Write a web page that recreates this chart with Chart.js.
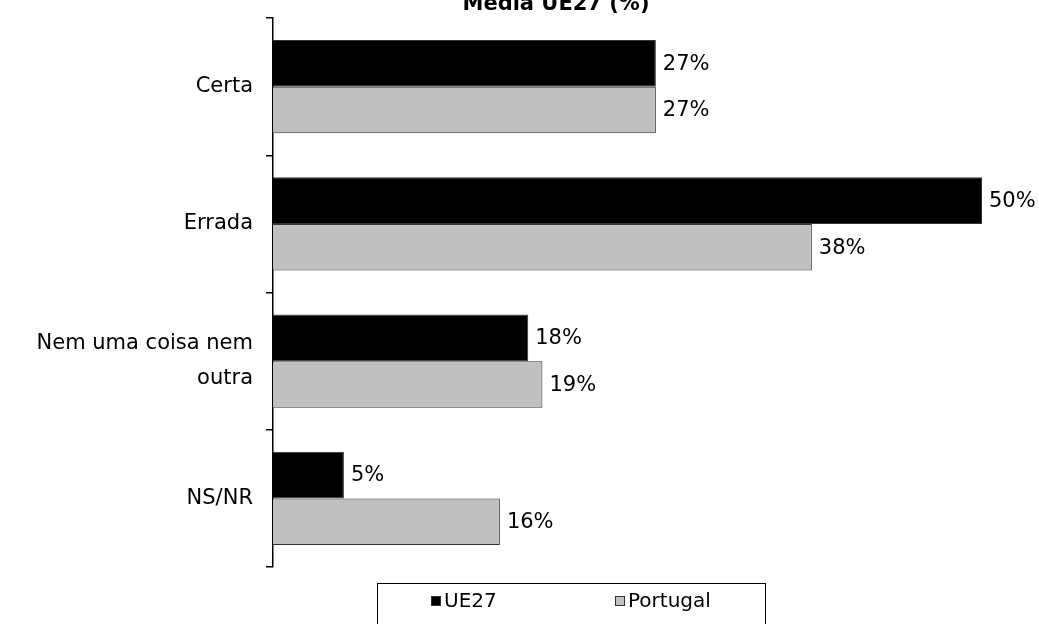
<!DOCTYPE html>
<html lang="pt">
<head>
    <meta charset="UTF-8">
    <title>Média UE27 (%)</title>
    <script src="https://cdn.jsdelivr.net/npm/chart.js@4.4.1/dist/chart.umd.min.js"></script>
    <style>
        html, body { margin: 0; padding: 0; background: #fff; }
        .wrap { width: 1039px; height: 624px; position: relative; }
    </style>
</head>
<body>
    <div class="wrap"><canvas id="chart"></canvas></div>

    <script>
        // data
        const categories = ['Certa', 'Errada', ['Nem uma coisa nem', 'outra'], 'NS/NR'];
        const ue27 = [27, 50, 18, 5];
        const portugal = [27, 38, 19, 16];
        const seriesNames = ['UE27', 'Portugal'];
        const titleText = 'Média UE27 (%)';

        const FONT = '"DejaVu Sans", sans-serif';

        // value labels at the end of each bar
        const barLabels = {
            id: 'barLabels',
            afterDatasetsDraw(chart) {
                const ctx = chart.ctx;
                ctx.save();
                ctx.font = '21px ' + FONT;
                ctx.fillStyle = '#000';
                ctx.textAlign = 'left';
                ctx.textBaseline = 'middle';
                chart.data.datasets.forEach((ds, i) => {
                    chart.getDatasetMeta(i).data.forEach((bar, j) => {
                        ctx.fillText(ds.data[j] + '%', bar.x + 7, bar.y + 1);
                    });
                });
                ctx.restore();
            }
        };

        // title (cut at the top) and boxed legend at the bottom
        const extras = {
            id: 'extras',
            afterDraw(chart) {
                const ctx = chart.ctx;
                ctx.save();
                ctx.font = 'bold 21px ' + FONT;
                ctx.fillStyle = '#000';
                ctx.textAlign = 'center';
                ctx.textBaseline = 'alphabetic';
                ctx.fillText(titleText, 556, 10);

                // legend box
                ctx.strokeStyle = '#000';
                ctx.lineWidth = 1;
                ctx.strokeRect(377.5, 583.5, 388, 60);

                const items = [{ x: 431 }, { x: 615 }];
                ctx.font = '20px ' + FONT;
                ctx.textAlign = 'left';
                ctx.textBaseline = 'middle';
                chart.data.datasets.forEach((ds, i) => {
                    const x = items[i].x;
                    ctx.fillStyle = ds.backgroundColor;
                    ctx.fillRect(x, 596, 10, 10);
                    ctx.strokeStyle = '#333';
                    ctx.strokeRect(x + 0.5, 596.5, 9, 9);
                    ctx.fillStyle = '#000';
                    ctx.fillText(ds.label, x + 13, 602);
                });
                ctx.restore();
            }
        };

        new Chart(document.getElementById('chart'), {
            type: 'bar',
            data: {
                labels: categories,
                datasets: [
                    {
                        label: seriesNames[0],
                        data: ue27,
                        backgroundColor: '#000000',
                        borderColor: '#333333',
                        borderWidth: 1,
                        categoryPercentage: 0.68,
                        barPercentage: 1.0
                    },
                    {
                        label: seriesNames[1],
                        data: portugal,
                        backgroundColor: '#c0c0c0',
                        borderColor: '#333333',
                        borderWidth: 1,
                        categoryPercentage: 0.68,
                        barPercentage: 1.0
                    }
                ]
            },
            options: {
                indexAxis: 'y',
                responsive: true,
                maintainAspectRatio: false,
                animation: false,
                layout: {
                    padding: { top: 18, right: 57, bottom: 57, left: 0 }
                },
                scales: {
                    x: {
                        display: false,
                        min: 0,
                        max: 50
                    },
                    y: {
                        offset: true,
                        afterFit(scale) {
                            scale.width = 273;
                            scale.paddingTop = 0;
                            scale.paddingBottom = 0;
                        },
                        border: { display: true, color: '#000', width: 1.5 },
                        grid: {
                            offset: true,
                            drawOnChartArea: false,
                            drawTicks: true,
                            tickLength: 7,
                            color: '#000',
                            lineWidth: 1.5
                        },
                        ticks: {
                            color: '#000',
                            padding: 13,
                            font: { family: FONT, size: 21, lineHeight: 1.65 }
                        }
                    }
                },
                plugins: {
                    legend: { display: false },
                    title: { display: false },
                    tooltip: { enabled: false }
                }
            },
            plugins: [barLabels, extras]
        });
    </script>
</body>
</html>
